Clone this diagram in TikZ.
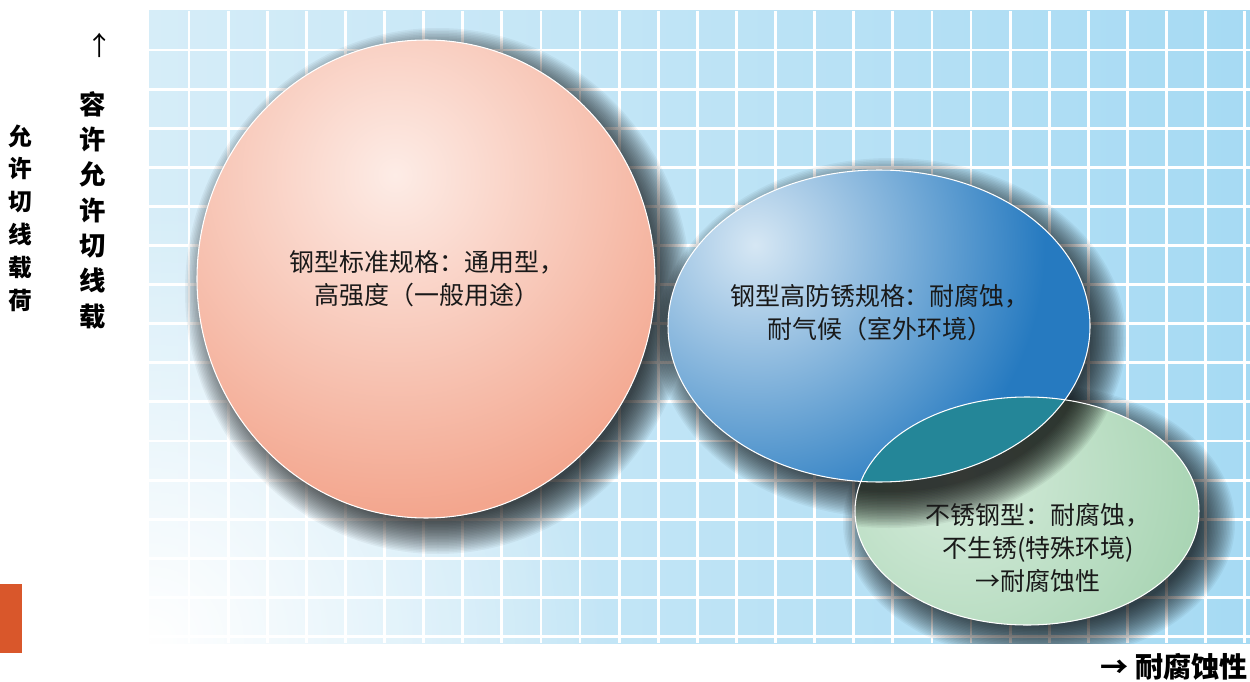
\documentclass[tikz,border=0pt]{standalone}
\usepackage{fontspec}
\setmainfont{Noto Sans CJK SC}
\usetikzlibrary{fadings}
\definecolor{gridlight}{RGB}{214,237,248}
\definecolor{griddeep}{RGB}{166,218,243}
\definecolor{salmon}{RGB}{243,166,142}
\definecolor{salmonhl}{RGB}{253,236,230}
\definecolor{steelblue}{RGB}{38,122,192}
\definecolor{steelbluehl}{RGB}{214,231,244}
\definecolor{mint}{RGB}{158,207,170}
\definecolor{minthl}{RGB}{214,236,220}
\definecolor{overlapteal}{RGB}{36,134,152}
\definecolor{tagorange}{RGB}{217,87,43}
\tikzfading[name=glowfade, inner color=transparent!0, outer color=transparent!100]

\begin{document}
\begin{tikzpicture}[
          x = 0.02cm, y = -0.02cm,
 gridline/.style = {white, line width=1.6pt},
 softshadow/.style = {black, opacity=0.045},
 rim/.style = {draw=white, line width=0.6pt},
 ovaltext/.style = {font=\fontsize{14.2}{18.7}\selectfont, align=center, text=black!90},
 axislabel/.style = {font=\bfseries\fontsize{13.5}{18.7}\selectfont, align=center}
                    ]
\useasboundingbox (0,0) rectangle (1250,682);
% background grid
\shade[left color=gridlight, right color=griddeep] (149,11) rectangle (1250,643);
\foreach \gx in {0,...,27}
    \draw[gridline] ({189+39.1*\gx},11) -- ({189+39.1*\gx},643);
\foreach \gy in {0,...,15}
    \draw[gridline] (149,{50+39.1*\gy}) -- (1250,{50+39.1*\gy});
\fill[white, path fading=glowfade] (150,640) ellipse [x radius=460, y radius=440];
% shadows
\begin{scope}
  \clip (149,11) rectangle (1250,643);
  \foreach \cx/\cy/\rx/\ry in {438/291/229/239, 891/338/211/156, 1039/523/172/114}
    \foreach \r in {0,...,24}
      \fill[softshadow] (\cx,\cy) ellipse [x radius={\rx-12+1.5*\r}, y radius={\ry-12+1.5*\r}];
\end{scope}
% standard grade
\begin{scope}
  \clip (426,279) ellipse [x radius=229, y radius=239];
  \fill[salmon] (426,279) ellipse [x radius=229, y radius=239];
  \shade[inner color=salmonhl, outer color=salmon] (395,175) circle (340);
\end{scope}
\draw[rim] (426,279) ellipse [x radius=229, y radius=239];
% stainless grade, with the shadow of the blue oval on it
\begin{scope}
  \clip (1027,511) ellipse [x radius=172, y radius=114];
  \fill[mint] (1027,511) ellipse [x radius=172, y radius=114];
  \shade[inner color=minthl, outer color=mint] (960,475) circle (300);
  \foreach \r in {0,...,24}
    \fill[black, opacity=0.05] (889,350) ellipse [x radius={211-14+1.5*\r}, y radius={156-14+1.5*\r}];
\end{scope}
% weathering grade
\begin{scope}
  \clip (879,326) ellipse [x radius=211, y radius=156];
  \fill[steelblue] (879,326) ellipse [x radius=211, y radius=156];
  \shade[inner color=steelbluehl, outer color=steelblue] (755,245) circle (290);
  \clip (1027,511) ellipse [x radius=172, y radius=114];
  \fill[overlapteal] (879,326) ellipse [x radius=211, y radius=156];
\end{scope}
\draw[rim] (879,326) ellipse [x radius=211, y radius=156];
\draw[rim] (1027,511) ellipse [x radius=172, y radius=114];
% texts
\node[ovaltext] (standard) at (427,279) {钢型标准规格：通用型，\\高强度（一般用途）};
\node[ovaltext] (weathering) at (880,313) {钢型高防锈规格：耐腐蚀，\\耐气候（室外环境）};
\node[ovaltext] (stainless) at (1038,548) {不锈钢型：耐腐蚀，\\不生锈(特殊环境)\\→耐腐蚀性};
% axes
\node[axislabel] (loadname) at (20,218) {允\\许\\切\\线\\载\\荷};
\node[font=\fontsize{15}{20}\selectfont] (uparrow) at (100,45) {↑};
\node[axislabel, font=\bfseries\fontsize{15}{20.1}\selectfont] (loadaxis) at (93,210) {容\\许\\允\\许\\切\\线\\载};
\node[anchor=east, font=\bfseries\fontsize{16}{20}\selectfont] (corrosion) at (1254,667) {→ 耐腐蚀性};
\fill[tagorange] (0,584) rectangle (22,653);
\end{tikzpicture}
\end{document}
